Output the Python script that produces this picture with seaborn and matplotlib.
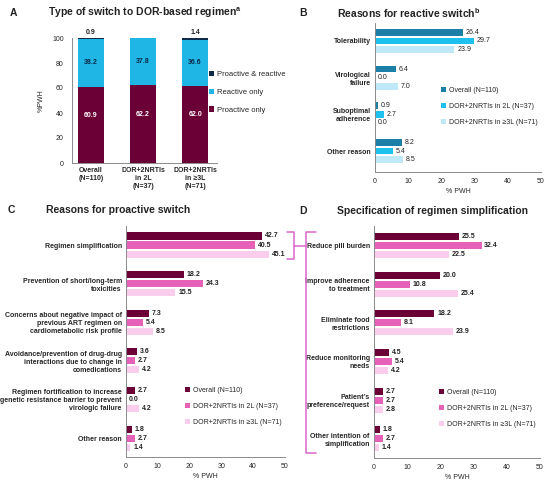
import pandas as pd
import seaborn as sns
import matplotlib.pyplot as plt
from matplotlib.lines import Line2D

# panel A - type of switch
groups_a = ["Overall\n(N=110)", "DOR+2NRTIs\nin 2L\n(N=37)", "DOR+2NRTIs\nin \u22653L\n(N=71)"]
proactive_only = [60.9, 62.2, 62.0]
reactive_only = [38.2, 37.8, 36.6]
proactive_reactive = [0.9, 0.0, 1.4]

# series names shared by B, C, D
series = ["Overall (N=110)", "DOR+2NRTIs in 2L (N=37)", "DOR+2NRTIs in \u22653L (N=71)"]

# panel B - reasons for reactive switch
reactive_reasons = ["Tolerability", "Virological\nfailure", "Suboptimal\nadherence", "Other reason"]
reactive_overall = [26.4, 6.4, 0.9, 8.2]
reactive_2l = [29.7, 0.0, 2.7, 5.4]
reactive_3l = [23.9, 7.0, 0.0, 8.5]

# panel C - reasons for proactive switch
proactive_reasons = [
    "Regimen simplification",
    "Prevention of short/long-term\ntoxicities",
    "Concerns about negative impact of\nprevious ART regimen on\ncardiometabolic risk profile",
    "Avoidance/prevention of drug-drug\ninteractions due to change in\ncomedications",
    "Regimen fortification to increase\ngenetic resistance barrier to prevent\nvirologic failure",
    "Other reason",
]
proactive_overall = [42.7, 18.2, 7.3, 3.6, 2.7, 1.8]
proactive_2l = [40.5, 24.3, 5.4, 2.7, 0.0, 2.7]
proactive_3l = [45.1, 15.5, 8.5, 4.2, 4.2, 1.4]

# panel D - specification of regimen simplification
simplification = [
    "Reduce pill burden",
    "Improve adherence\nto treatment",
    "Eliminate food\nrestrictions",
    "Reduce monitoring\nneeds",
    "Patient\u2019s\npreference/request",
    "Other intention of\nsimplification",
]
simp_overall = [25.5, 20.0, 18.2, 4.5, 2.7, 1.8]
simp_2l = [32.4, 10.8, 8.1, 5.4, 2.7, 2.7]
simp_3l = [22.5, 25.4, 23.9, 4.2, 2.8, 1.4]

# colours
maroon, cyan, navy = "#6a0035", "#1fb6e6", "#0e2a48"
blue_pal = ["#1b7fa8", "#1ec0ee", "#bde9f8"]
pink_pal = ["#6a0035", "#e661b8", "#f9cdeb"]
bracket_col = "#dd66cc"

sns.set_style("white")
plt.rcParams["font.family"] = ["Liberation Sans", "DejaVu Sans"]
plt.rcParams["axes.edgecolor"] = "#8a8a8a"
plt.rcParams["axes.linewidth"] = 0.7

W, H = 550, 484
fig = plt.figure(figsize=(W / 100, H / 100), dpi=100)


def px_axes(left, top, right, bottom):
    # axes placed by pixel edges
    return fig.add_axes([left / W, 1 - bottom / H, (right - left) / W, (bottom - top) / H])


def fig_text(x, y, s, **kw):
    fig.text(x / W, 1 - y / H, s, va="center", **kw)


# panel headers
for x, y, letter, title in [
    (10, 13, "A", "Type of switch to DOR-based regimen$^{\\mathregular{a}}$"),
    (299, 13, "B", "Reasons for reactive switch$^{\\mathregular{b}}$"),
    (8, 210, "C", "Reasons for proactive switch"),
    (299, 211, "D", "Specification of regimen simplification"),
]:
    fig_text(x, y, letter, fontsize=7.5, fontweight="bold", color="#222222")
    fig_text(x + 38, y, title, fontsize=7.5, fontweight="bold", color="#222222")

# ---- panel A: stacked bars
ax = px_axes(72, 38, 217, 163)
df_a = pd.DataFrame({"group": groups_a, "pro": proactive_only, "rea": reactive_only, "both": proactive_reactive})
df_a["top_rea"] = df_a["pro"] + df_a["rea"]
df_a["top_all"] = df_a["top_rea"] + df_a["both"]
bar_kw = dict(width=0.5, saturation=1, linewidth=0, ax=ax)
sns.barplot(data=df_a, x="group", y="top_all", color=navy, label="Proactive & reactive", **bar_kw)
sns.barplot(data=df_a, x="group", y="top_rea", color=cyan, label="Reactive only", **bar_kw)
sns.barplot(data=df_a, x="group", y="pro", color=maroon, label="Proactive only", **bar_kw)
for i, row in df_a.iterrows():
    ax.text(i, row["pro"] * 0.62, f"{row['pro']:.1f}", ha="center", va="center", fontsize=5, fontweight="bold", color="white")
    ax.text(i, row["pro"] + row["rea"] / 2, f"{row['rea']:.1f}", ha="center", va="center", fontsize=5, fontweight="bold", color="#0e2a48")
    if row["both"] > 0:
        ax.text(i, row["top_all"] + 1.5, f"{row['both']:.1f}", ha="center", va="bottom", fontsize=5, fontweight="bold", color="#222222")
ax.set_ylim(0, 100)
ax.set_xlim(-0.365, 2.42)
ax.set_yticks(range(0, 101, 20))
ax.set_xlabel("")
ax.set_ylabel("%PWH", fontsize=5, labelpad=5)
ax.tick_params(axis="y", labelsize=5, length=4, color="#8a8a8a", pad=2)
ax.tick_params(axis="x", labelsize=5, length=0, pad=3)
for lab in ax.get_xticklabels():
    lab.set_fontweight("bold")
sns.despine(ax=ax)
ax.legend(loc="upper left", bbox_to_anchor=(209 / W, 1 - 71 / H), bbox_transform=fig.transFigure,
          frameon=False, fontsize=5.5, handlelength=0.7, handleheight=0.7, handletextpad=0.4,
          labelspacing=1.35, borderpad=0, borderaxespad=0)


def grouped_hbar(ax, cats, values, palette, ylim, bold, legend_xy):
    df = pd.DataFrame({
        "reason": cats * 3,
        "group": [s for s in series for _ in cats],
        "value": values[0] + values[1] + values[2],
    })
    sns.barplot(data=df, y="reason", x="value", hue="group", orient="h", palette=palette,
                saturation=1, width=0.7, gap=0.22, linewidth=0, ax=ax)
    for cont in ax.containers:
        ax.bar_label(cont, fmt="%.1f", padding=2, fontsize=5,
                     fontweight="bold" if bold else "normal", color="#222222")
    ax.set_xlim(0, 50)
    ax.set_ylim(*ylim)
    ax.set_xticks(range(0, 51, 10))
    ax.set_xlabel("% PWH", fontsize=5, labelpad=2)
    ax.set_ylabel("")
    ax.tick_params(axis="x", labelsize=5, length=2.5, color="#8a8a8a", pad=2)
    ax.tick_params(axis="y", labelsize=5, length=0, pad=3)
    for lab in ax.get_yticklabels():
        lab.set_fontweight("bold")
    sns.despine(ax=ax)
    sns.move_legend(ax, "upper left", bbox_to_anchor=(legend_xy[0] / W, 1 - legend_xy[1] / H),
                    bbox_transform=fig.transFigure, title=None, frameon=False, fontsize=5,
                    handlelength=0.75, handleheight=0.75, handletextpad=0.4, labelspacing=1.3,
                    borderpad=0, borderaxespad=0)


# ---- panel B
ax_b = px_axes(375, 22.6, 541, 172)
grouped_hbar(ax_b, reactive_reasons, [reactive_overall, reactive_2l, reactive_3l], blue_pal,
             (3.57, -0.5), False, (441, 87))

# ---- panel C
ax_c = px_axes(126, 225.7, 285, 457)
grouped_hbar(ax_c, proactive_reasons, [proactive_overall, proactive_2l, proactive_3l], pink_pal,
             (5.49, -0.5), True, (185, 387))

# ---- panel D
ax_d = px_axes(374, 226.4, 540, 458)
grouped_hbar(ax_d, simplification, [simp_overall, simp_2l, simp_3l], pink_pal,
             (5.5, -0.5), True, (439, 389))


# bracket linking "Regimen simplification" to panel D
def px_line(xs, ys):
    fig.add_artist(Line2D([x / W for x in xs], [1 - y / H for y in ys], color=bracket_col, lw=1.1,
                          transform=fig.transFigure))


px_line([287, 294, 294, 287], [232, 232, 259, 259])
px_line([294, 305.7], [245.5, 245.5])
px_line([316, 305.7, 305.7, 316], [232, 232, 453, 453])

fig.savefig("out.png", dpi=100)
